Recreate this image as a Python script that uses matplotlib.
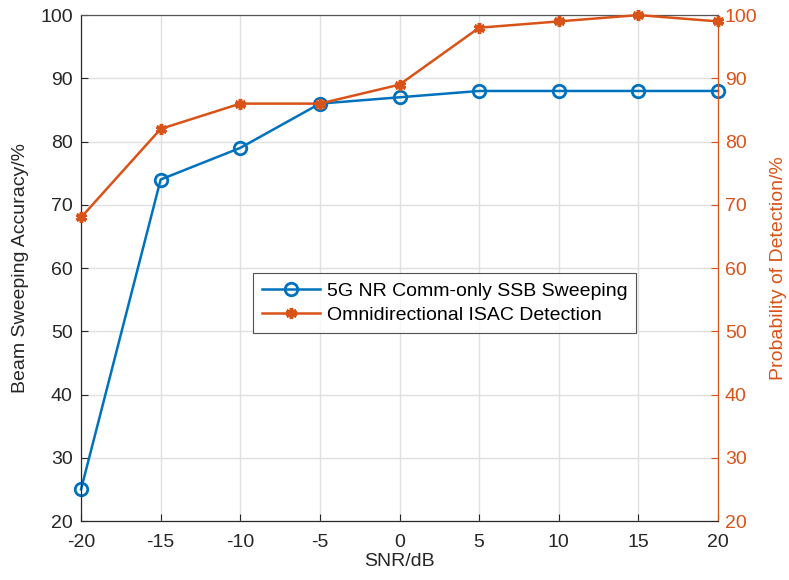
import numpy as np
import matplotlib.pyplot as plt

plt.rcParams['font.family'] = ['Liberation Sans', 'DejaVu Sans']

snr = [-20, -15, -10, -5, 0, 5, 10, 15, 20]
beam_acc = [25, 74, 79, 86, 87, 88, 88, 88, 88]
p_detect = [68, 82, 86, 86, 89, 98, 99, 100, 99]

BLUE = '#0072BD'
ORANGE = '#D95319'

fig = plt.figure(figsize=(7.89, 5.8), dpi=100)
ax = fig.add_axes([0.1027, 0.1017, 0.8073, 0.8723])
ax2 = ax.twinx()

l1, = ax.plot(snr, beam_acc, color=BLUE, lw=1.8, marker='o', ms=9,
              mfc='none', mew=2, label='5G NR Comm-only SSB Sweeping', clip_on=False, zorder=3)
l2, = ax2.plot(snr, p_detect, color=ORANGE, lw=1.8, marker=(6, 2, 0), ms=8,
               mew=2.5, label='Omnidirectional ISAC Detection', clip_on=False, zorder=3)

for a in (ax, ax2):
    a.set_xlim(-20, 20)
    a.set_ylim(20, 100)
    a.set_yticks(np.arange(20, 101, 10))
ax.set_xticks(snr)
ax.set_xticklabels([str(v) for v in snr])
ax.grid(True, color='#e0e0e0', lw=1)
ax.set_axisbelow(True)

ax.tick_params(axis='y', direction='in', labelsize=14, length=5, pad=6, colors='#262626')
ax.tick_params(axis='x', direction='in', labelsize=14, length=5, pad=9, colors='#262626')
ax2.tick_params(direction='in', labelsize=14, length=5, pad=5, colors=ORANGE)
ax.set_xlabel('SNR/dB', fontsize=14, color='#262626', labelpad=2)
ax.set_ylabel('Beam Sweeping Accuracy/%', fontsize=14, color='#262626', labelpad=8)
ax2.set_ylabel('Probability of Detection/%', fontsize=14, color=ORANGE, labelpad=9)

for a in (ax, ax2):
    a.spines['top'].set_color('#555555')
    a.spines['left'].set_color('#262626')
    a.spines['bottom'].set_color('#262626')
    a.spines['right'].set_color(ORANGE)

leg = ax2.legend(handles=[l1, l2], loc='center', bbox_to_anchor=(0.571, 0.431),
                 fontsize=14, frameon=True, fancybox=False, edgecolor='#262626',
                 borderpad=0.45, handlelength=3.0, handletextpad=0.35, labelspacing=0.35)
leg.get_frame().set_linewidth(0.8)

fig.savefig('out.png', dpi=100)
